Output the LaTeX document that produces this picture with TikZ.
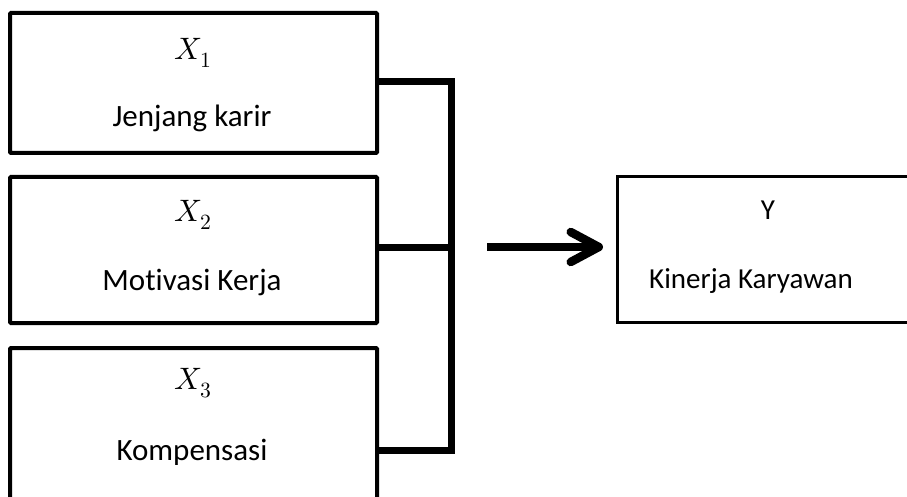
\documentclass[tikz,border=0pt]{standalone}
\usepackage{unicode-math}
\setmainfont[RawFeature={-liga;-clig;-dlig}]{Carlito}
\setmathfont{Latin Modern Math}
\usetikzlibrary{arrows.meta}
\tikzset{
  varbox/.style={draw=black, line width=4pt, rounded corners=1pt, minimum width=367pt, inner sep=0pt},
  ybox/.style={draw=black, line width=3pt, minimum width=302pt, minimum height=145pt, inner sep=0pt},
  lbl/.style={font=\fontsize{31}{36}\selectfont, inner sep=0pt, anchor=center},
  ylbl/.style={font=\fontsize{29}{34}\selectfont, inner sep=0pt, anchor=center},
  link/.style={line width=7pt},
  mainarrow/.style={line width=8.5pt, -{Straight Barb[round, length=28pt, width=30pt]}}
}
\begin{document}
\begin{tikzpicture}[x=1pt, y=-1pt]
\useasboundingbox (0,0) rectangle (907,497);
\clip (0,0) rectangle (907,497);
% boxes
\node[varbox, minimum height=140pt] (b1) at (193.5,83) {};
\node[varbox, minimum height=146pt] (b2) at (193.5,250) {};
\node[varbox, minimum height=160pt] (b3) at (193.5,428) {};
\node[ybox] (y) at (768,249.5) {};
% labels
\node[lbl] (b1x) at (193,53) {$X_1$};
\node[lbl] (b1t) at (192,118) {Jenjang karir};
\node[lbl] (b2x) at (193,215) {$X_2$};
\node[lbl] (b2t) at (192,282) {Motivasi Kerja};
\node[lbl] (b3x) at (193,383) {$X_3$};
\node[lbl] (b3t) at (192,452) {Kompensasi};
\node[ylbl] (yx) at (768,210) {Y};
\node[ylbl] (yt) at (751,281) {Kinerja Karyawan};
% bracket
\coordinate (j1) at (451,82);
\coordinate (j2) at (451,247);
\coordinate (j3) at (451,450);
\draw[link] (b1.east |- j1) -- (j1) -- (j3) -- (b3.east |- j3);
\draw[link] (b2.east |- j2) -- (j2);
% arrow
\coordinate (as) at (487,247);
\coordinate (ae) at (603,247);
\draw[mainarrow] (as) -- (ae);
\end{tikzpicture}
\end{document}
